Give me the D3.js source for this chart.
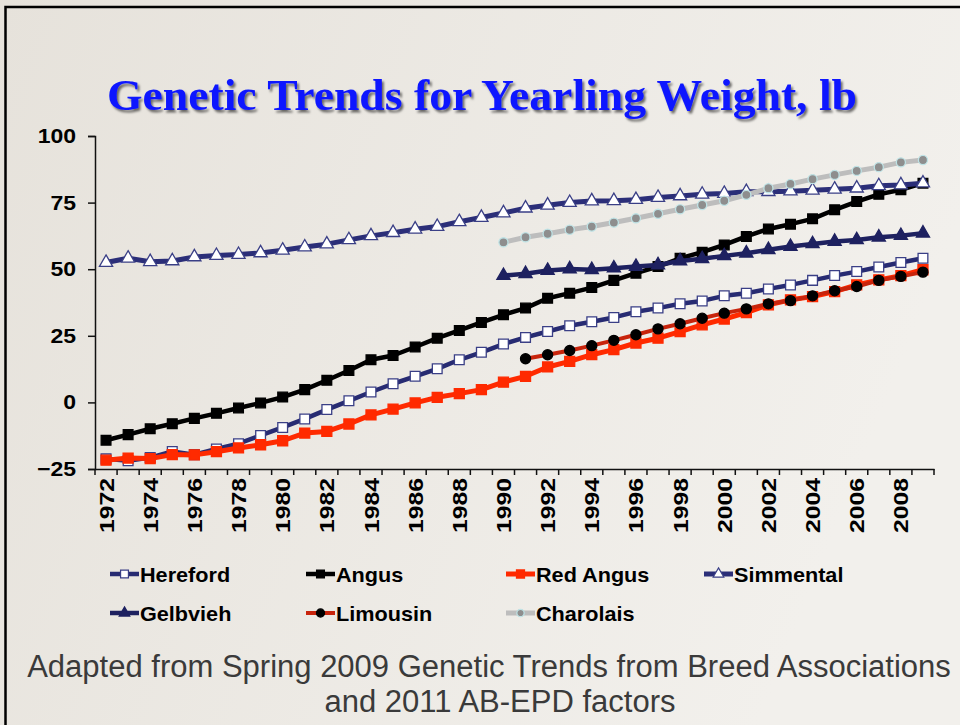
<!DOCTYPE html>
<html>
<head>
<meta charset="utf-8">
<script src="https://cdn.jsdelivr.net/npm/d3@7"></script>
<style>
  body { margin: 0; background: #ebe8e2; }
  svg { display: block; }
</style>
</head>
<body>
<div id="chart"></div>
<script>
const years = [1972, 1973, 1974, 1975, 1976, 1977, 1978, 1979, 1980, 1981,
  1982, 1983, 1984, 1985, 1986, 1987, 1988, 1989, 1990, 1991,
  1992, 1993, 1994, 1995, 1996, 1997, 1998, 1999, 2000, 2001,
  2002, 2003, 2004, 2005, 2006, 2007, 2008, 2009];
const yTicks = [-25, 0, 25, 50, 75, 100];

// 1972-2009
const hereford = [-21.2, -21.9, -20.7, -18.4, -19.6, -17.5, -15.5, -12.4, -9.4, -6.2,
  -2.7, 0.6, 3.9, 7, 9.8, 12.6, 16, 18.8, 21.9, 24.4,
  26.6, 28.8, 30.3, 31.9, 34, 35.4, 37, 38.1, 40, 41,
  42.6, 44.1, 45.8, 47.6, 49.1, 50.8, 52.5, 54.1];
const angus = [-14.2, -12.1, -9.9, -8, -6, -4.1, -2.1, -0.2, 2, 4.8,
  8.3, 12, 16, 17.6, 20.8, 24.1, 27, 30, 32.9, 35.4,
  39.1, 41, 43.1, 45.8, 48.5, 51, 54.1, 56.4, 59.1, 62.3,
  65.1, 66.9, 68.9, 72.3, 75.4, 78.1, 79.8, 82.3];
const redAngus = [-21.7, -20.9, -21.1, -19.6, -19.7, -18.5, -17.1, -15.9, -14.4, -11.5,
  -10.9, -8.1, -4.7, -2.5, -0.2, 1.9, 3.3, 4.8, 7.6, 9.8,
  13.3, 15.4, 17.9, 19.8, 22.3, 24.1, 26.6, 29.1, 31.3, 33.7,
  36.6, 38.5, 39.7, 41.6, 44.1, 46, 47.6, 49.8];
const simmental = [52.5, 54.1, 52.8, 53.1, 54.6, 55.1, 55.5, 56.1, 57.1, 58.3,
  59.4, 61, 62.5, 63.7, 65, 66, 67.8, 69.4, 71.1, 72.9,
  74, 75, 75.6, 75.7, 76.1, 76.9, 77.5, 78.1, 78.4, 79.1,
  79.1, 79.3, 79.6, 80, 80.4, 81.3, 81.6, 82.3];
// 1990-2009
const gelbvieh = [47.6, 48.3, 49.5, 50.1, 49.8, 50.4, 51, 51.6, 53.1, 53.9,
  55, 56, 57.3, 58.5, 59.5, 60.4, 61, 62, 62.6, 63.5];
// 1991-2009
const limousin = [16.4, 17.9, 19.5, 21.3, 23.3, 25.4, 27.6, 29.5, 31.6, 33.5,
  35.1, 37, 38.2, 40, 41.9, 43.5, 45.8, 47.3, 48.9];
// 1990-2009
const charolais = [60.1, 62, 63.3, 64.8, 66, 67.5, 69.1, 70.8, 72.5, 74.1,
  75.7, 77.9, 80.4, 82, 83.8, 85.4, 86.9, 88.3, 90.1, 91];

const series = [
  { name: "Hereford", start: 1972, values: hereford, line: "#272b72", width: 4.5, symbol: d3.symbolSquare, size: 95, fill: "#fff", stroke: "#3a3f86" },
  { name: "Angus", start: 1972, values: angus, line: "#000", width: 4.5, symbol: d3.symbolSquare, size: 95, fill: "#000", stroke: "#000" },
  { name: "Red Angus", start: 1972, values: redAngus, line: "#ff2a00", width: 5, symbol: d3.symbolSquare, size: 100, fill: "#ff2a00", stroke: "#ff2a00" },
  { name: "Simmental", start: 1972, values: simmental, line: "#2b2e78", width: 5, symbol: d3.symbolTriangle, size: 75, fill: "#fff", stroke: "#3a3f86" },
  { name: "Gelbvieh", start: 1990, values: gelbvieh, line: "#1e2160", width: 4.5, symbol: d3.symbolTriangle, size: 75, fill: "#1e2160", stroke: "#1e2160" },
  { name: "Limousin", start: 1991, values: limousin, line: "#c8240c", width: 4, symbol: d3.symbolCircle, size: 80, fill: "#000", stroke: "#000" },
  { name: "Charolais", start: 1990, values: charolais, line: "#bdbdbd", width: 5, symbol: d3.symbolCircle, size: 65, fill: "#8e8e8e", stroke: "#bfe3e6" }
];

const width = 960, height = 725;
const sans = "Liberation Sans, Arial, sans-serif";
const svg = d3.select("#chart").append("svg")
  .attr("width", width)
  .attr("height", height);

// widen text like the stretched slide
function stretch(sel, k) {
  sel.each(function () {
    const len = this.getComputedTextLength();
    if (len > 0) d3.select(this).attr("textLength", len * k).attr("lengthAdjust", "spacingAndGlyphs");
  });
}

const defs = svg.append("defs");
const bg = defs.append("linearGradient").attr("id", "bg")
  .attr("x1", 0).attr("y1", 0).attr("x2", 1).attr("y2", 0.3);
bg.append("stop").attr("offset", 0).attr("stop-color", "#e6e2db");
bg.append("stop").attr("offset", 1).attr("stop-color", "#f2f0ec");

const shadow = defs.append("filter").attr("id", "shadow")
  .attr("x", "-5%").attr("y", "-20%").attr("width", "110%").attr("height", "150%");
shadow.append("feDropShadow")
  .attr("dx", 2).attr("dy", 2.5).attr("stdDeviation", 1.2)
  .attr("flood-color", "#000").attr("flood-opacity", 0.55);

svg.append("rect").attr("width", width).attr("height", height).attr("fill", "url(#bg)");
svg.append("rect")
  .attr("x", 5.5).attr("y", 7).attr("width", width + 20).attr("height", height + 20)
  .attr("fill", "none").attr("stroke", "#000").attr("stroke-width", 2.5);

// title
svg.append("text")
  .attr("x", 107).attr("y", 110)
  .attr("textLength", 750).attr("lengthAdjust", "spacingAndGlyphs")
  .attr("font-family", "Liberation Serif, DejaVu Serif, serif")
  .attr("font-weight", "bold")
  .attr("font-size", 45)
  .attr("fill", "#0a14ff")
  .attr("filter", "url(#shadow)")
  .text("Genetic Trends for Yearling Weight, lb");

const x = d3.scaleBand().domain(years).range([95, 934]);
const y = d3.scaleLinear().domain([-25, 100]).range([469, 136]);
const cx = d => x(d) + x.bandwidth() / 2;

// y axis
const yAxis = d3.axisLeft(y).tickValues(yTicks).tickSize(7).tickPadding(12);
svg.append("g")
  .attr("class", "y axis")
  .attr("transform", "translate(95,0)")
  .call(yAxis)
  .call(g => g.selectAll("path, line").attr("stroke", "#111").attr("stroke-width", 1.5))
  .call(g => g.selectAll("text")
    .attr("font-family", sans)
    .attr("font-weight", "bold")
    .attr("font-size", 20)
    .attr("fill", "#000")
    .call(stretch, 1.15));

// x axis: labels every other year, ticks on band edges
const xAxis = d3.axisBottom(x).tickSize(0).tickPadding(0)
  .tickFormat(d => d % 2 === 0 ? d : "");
const xg = svg.append("g")
  .attr("class", "x axis")
  .attr("transform", "translate(0,469)")
  .call(xAxis);
xg.select(".domain").attr("stroke", "#111").attr("stroke-width", 1.5);
xg.selectAll("text")
  .attr("transform", "rotate(-90)")
  .attr("text-anchor", "end")
  .attr("x", -9)
  .attr("y", 0)
  .attr("dy", "0.36em")
  .attr("font-family", sans)
  .attr("font-weight", "bold")
  .attr("font-size", 21)
  .attr("fill", "#000")
  .call(stretch, 1.18);
xg.selectAll(".edge")
  .data(years.map(d => x(d)).concat([x.range()[1]]))
  .join("line")
  .attr("class", "edge")
  .attr("x1", d => d).attr("x2", d => d)
  .attr("y1", 0).attr("y2", 6)
  .attr("stroke", "#111").attr("stroke-width", 1.5);

// series
const line = d3.line().x(d => cx(d.year)).y(d => y(d.value));
series.forEach(s => {
  const pts = s.values.map((v, i) => ({ year: s.start + i, value: v }));
  const g = svg.append("g").attr("class", "series");
  g.append("path")
    .datum(pts)
    .attr("d", line)
    .attr("fill", "none")
    .attr("stroke", s.line)
    .attr("stroke-width", s.width)
    .attr("stroke-linejoin", "round");
  g.selectAll("path.pt")
    .data(pts)
    .join("path")
    .attr("class", "pt")
    .attr("transform", d => `translate(${cx(d.year)},${y(d.value)})`)
    .attr("d", d3.symbol().type(s.symbol).size(s.size))
    .attr("fill", s.fill)
    .attr("stroke", s.stroke)
    .attr("stroke-width", 1.3);
});

// legend
const legendPos = [[110, 574], [306, 574], [506, 574], [704, 574], [110, 613], [306, 613], [506, 613]];
const legend = svg.append("g").attr("class", "legend");
series.forEach((s, i) => {
  const [lx, ly] = legendPos[i];
  const item = legend.append("g").attr("transform", `translate(${lx},${ly})`);
  item.append("line")
    .attr("x1", 0).attr("x2", 29).attr("y1", 0).attr("y2", 0)
    .attr("stroke", s.line).attr("stroke-width", s.width);
  item.append("path")
    .attr("transform", "translate(14.5,0)")
    .attr("d", d3.symbol().type(s.symbol).size(s.size * 0.65))
    .attr("fill", s.fill).attr("stroke", s.stroke).attr("stroke-width", 1.2);
  item.append("text")
    .attr("x", 30).attr("y", 0).attr("dy", "0.36em")
    .attr("font-family", sans)
    .attr("font-weight", "bold")
    .attr("font-size", 21)
    .attr("fill", "#000")
    .text(s.name)
    .call(stretch, 1.03);
});

// source note
const note = svg.append("g")
  .attr("font-family", sans)
  .attr("font-size", 31)
  .attr("text-anchor", "middle")
  .attr("fill", "#3a3a3a");
note.append("text")
  .attr("x", 489).attr("y", 677)
  .text("Adapted from Spring 2009 Genetic Trends from Breed Associations");
note.append("text")
  .attr("x", 500).attr("y", 712)
  .text("and 2011 AB-EPD factors");
</script>
</body>
</html>
